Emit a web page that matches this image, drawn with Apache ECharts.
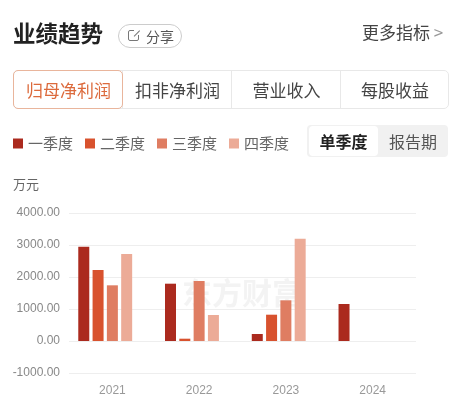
<!DOCTYPE html>
<html>
<head>
<meta charset="utf-8">
<script src="https://cdn.jsdelivr.net/npm/echarts@6/dist/echarts.min.js"></script>
<style>
html,body{margin:0;padding:0;background:#fff;width:461px;height:415px;overflow:hidden;font-family:"Noto Sans CJK SC","Noto Sans",sans-serif;}
#chart{position:absolute;left:0;top:0;width:461px;height:415px;}
.abs{position:absolute;white-space:nowrap;}
#title{left:13px;top:16px;font-size:22.5px;font-weight:bold;color:#222;line-height:32px;}
#share{left:118px;top:24px;width:62px;height:22px;border:1px solid #ccc;border-radius:12px;font-size:14px;color:#555;line-height:22px;box-sizing:content-box;}
#share span{position:absolute;left:27px;top:0;}
#share .ic{position:absolute;left:9px;top:5px;width:11px;height:11px;border:1.3px solid #777;border-radius:2px;box-sizing:border-box;}
#share .ar{position:absolute;left:15px;top:3px;width:7px;height:7px;background:#fff;}
#share .ln{position:absolute;left:14px;top:8px;width:8px;height:1.3px;background:#777;transform:rotate(-45deg);}
#more{left:362px;top:19px;font-size:17px;color:#444;line-height:26px;}
#tabs{left:13px;top:70px;width:436px;height:39px;border:1px solid #e8e8e8;border-radius:5px;box-sizing:border-box;}
.tab{position:absolute;top:0;height:37px;line-height:37px;text-align:center;font-size:17px;color:#444;}
.div{position:absolute;top:0;width:1px;height:37px;background:#e8e8e8;}
#sel{position:absolute;left:-1px;top:-1px;width:110px;height:39px;border:1px solid #e9b59c;border-radius:5px;box-sizing:border-box;}
#seg{left:307px;top:125px;width:141px;height:32px;background:#f1f1f1;border-radius:4px;}
#seg .on{position:absolute;left:2px;top:1px;width:69px;height:30px;background:#fff;border-radius:4px;font-size:16px;font-weight:bold;color:#222;text-align:center;line-height:30px;}
#seg .off{position:absolute;left:71px;top:1px;width:70px;height:30px;font-size:16px;color:#555;text-align:center;line-height:30px;}
</style>
</head>
<body>
<div id="chart"></div>
<div class="abs" id="title">业绩趋势</div>
<div class="abs" id="share"><div class="ic"></div><div class="ar"></div><div class="ln"></div><span>分享</span></div>
<div class="abs" id="more">更多指标 <span style="color:#999">&gt;</span></div>
<div class="abs" id="tabs">
  <div class="tab" style="left:0;width:109px;color:#dc6a3c;">归母净利润</div>
  <div class="div" style="left:108px"></div>
  <div class="tab" style="left:109px;width:109px;">扣非净利润</div>
  <div class="div" style="left:217px"></div>
  <div class="tab" style="left:218px;width:109px;">营业收入</div>
  <div class="div" style="left:326px"></div>
  <div class="tab" style="left:327px;width:108px;">每股收益</div>
  <div id="sel"></div>
</div>
<div class="abs" id="seg"><div class="on">单季度</div><div class="off">报告期</div></div>
<script>
var years = ['2021', '2022', '2023', '2024'];
var seriesNames = ['一季度', '二季度', '三季度', '四季度'];
var q1 = [2947, 1791, 219, 1156];
var q2 = [2219, 72, 822, null];
var q3 = [1740, 1875, 1271, null];
var q4 = [2719, 813, 3198, null];
var extra = [null, null, null, null];
var yTicks = [-1000, 0, 1000, 2000, 3000, 4000];
var colors = ['#ab2a1e', '#d8522e', '#df7d62', '#ecab97'];

var chart = echarts.init(document.getElementById('chart'));
var allData = [q1, q2, q3, q4];
var series = allData.map(function (d, i) {
  return {
    name: seriesNames[i], type: 'bar', data: d, barWidth: 11, barGap: '30%',
    itemStyle: { color: colors[i] }, silent: true
  };
});
series.push({ name: 'extra', type: 'bar', data: extra, barWidth: 11, barGap: '30%', silent: true });

chart.setOption({
  animation: false,
  legend: {
    data: seriesNames, left: 8, top: 131, icon: 'rect', itemWidth: 10, itemHeight: 10,
    itemGap: 12, textStyle: { fontSize: 15, color: '#666', fontFamily: 'Noto Sans CJK SC' }
  },
  grid: { left: 69, right: 45, top: 213, bottom: 42 },
  graphic: [{
    type: 'text', left: 182, top: 278, z: 0,
    style: { text: '东方财富', fontSize: 30, fontWeight: 'bold', fill: 'rgba(200,200,200,0.22)', fontFamily: 'Noto Sans CJK SC' }
  }],
  xAxis: {
    type: 'category', data: years,
    axisLine: { show: false }, axisTick: { show: false },
    axisLabel: { color: '#999', fontSize: 12, margin: 12, fontFamily: 'Liberation Sans' }
  },
  yAxis: {
    type: 'value', min: yTicks[0], max: yTicks[yTicks.length - 1], interval: 1000,
    name: '万元', nameLocation: 'end', nameGap: 22,
    nameTextStyle: { color: '#666', fontSize: 13, align: 'left', padding: [0, 0, 0, -56], fontFamily: 'Noto Sans CJK SC' },
    axisLine: { show: false }, axisTick: { show: false },
    splitLine: { lineStyle: { color: '#eeeeee', width: 1 } },
    axisLabel: { color: '#888', fontSize: 12, margin: 9, fontFamily: 'Liberation Sans', formatter: function (v) { return v.toFixed(2); } }
  },
  series: series
});
</script>
</body>
</html>
